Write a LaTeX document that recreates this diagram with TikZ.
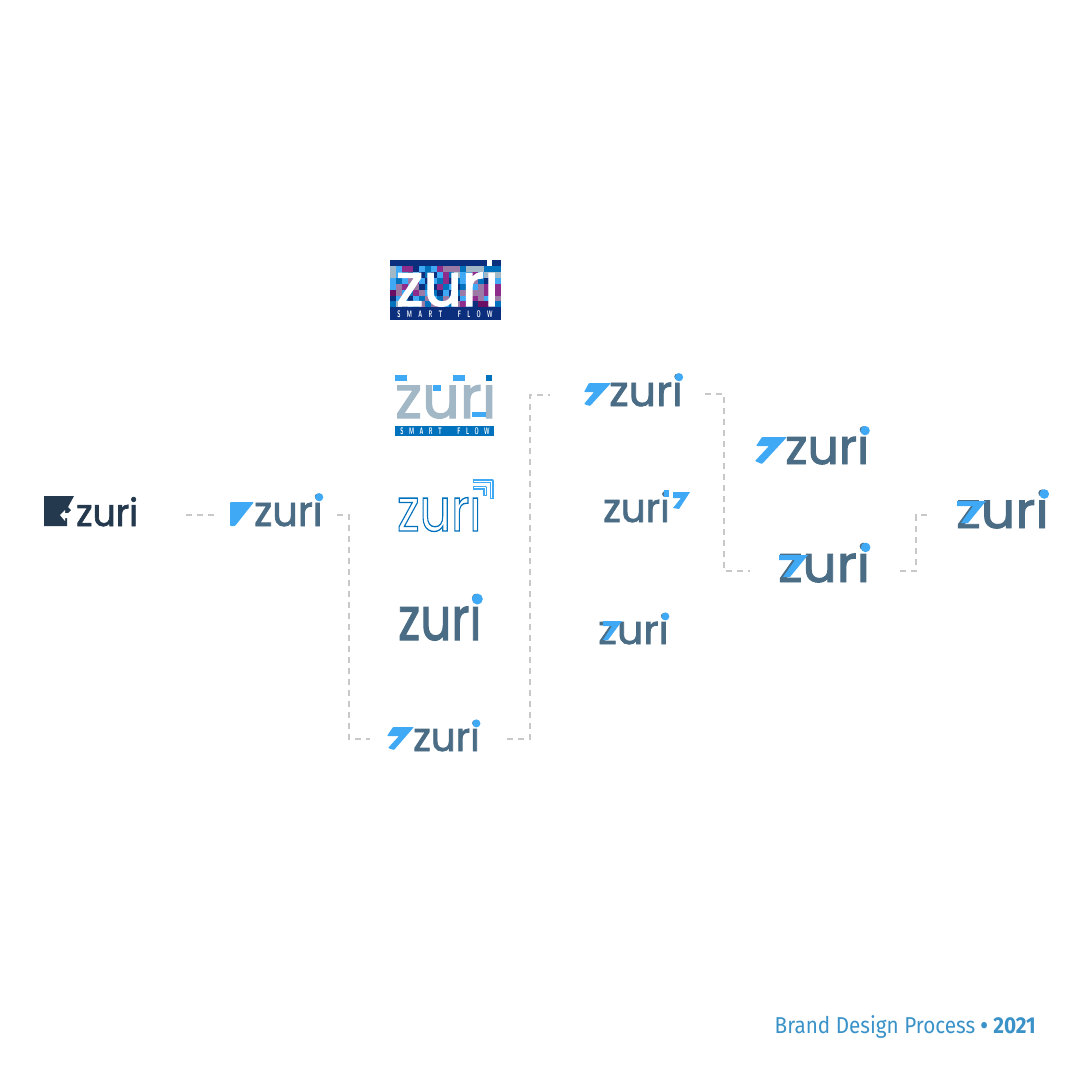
\documentclass[tikz,border=0pt]{standalone}
\usepackage{fontspec}
\usetikzlibrary{positioning, arrows.meta, calc}
\newfontfamily\zurifont[FakeBold=1.8]{Poppins}
\newfontfamily\zurilight{Poppins}
\newfontfamily\capfont[FakeStretch=0.9]{Fira Sans}
\definecolor{zurinavy}{HTML}{24394D}
\definecolor{zuristeel}{HTML}{4A6D85}
\definecolor{zuriblue}{HTML}{3FA9F5}
\definecolor{zurideep}{HTML}{0071BC}
\definecolor{zurigrey}{HTML}{A3B8C6}
\definecolor{pixnavy}{HTML}{0B2F7C}
\definecolor{pixplum}{HTML}{8E2C8C}
\definecolor{pixmauve}{HTML}{9C7AA6}
\definecolor{pixwine}{HTML}{6A0F63}
\definecolor{capblue}{HTML}{3A92C8}
\definecolor{dashgrey}{HTML}{C8C8C8}
\newcommand{\smartflow}[1]{S\hspace{#1}M\hspace{#1}A\hspace{#1}R\hspace{#1}T\hspace{28pt}F\hspace{#1}L\hspace{#1}O\hspace{#1}W}
\tikzset{
  wordmark/.style={inner sep=0, anchor=base west, text=zuristeel, font=\zurifont\fontsize{#1}{#1}\selectfont},
  smartbar/.style={inner sep=0, text=white, xscale=0.55, font=\sffamily\bfseries\fontsize{9.5}{9.5}\selectfont},
  linkdash/.style={draw=dashgrey, line width=1.1pt, dash pattern=on 6pt off 5pt},
  dotmark/.style={circle, fill=zuriblue, inner sep=0, minimum size=#1}
}
\begin{document}
\begin{tikzpicture}[x=1pt, y=-1pt]
\useasboundingbox (0,0) rectangle (1081,1080);
\fill[white] (0,0) rectangle (1081,1080);

\node[wordmark=38, text=zurinavy, xscale=0.95] (logoStart) at (76,526) {zuri};
\fill[zurinavy] (44,496) -- (74,496) -- (68,507) -- (71,510) -- (67,514) -- (67,526) -- (44,526) -- cycle;
\fill[white] (60,515) -- (65,510) -- (65,513) -- (71,513) -- (71,518) -- (65,518) -- (65,521) -- cycle;

\node[wordmark=42, xscale=0.95] (logoBlock) at (254,526) {zuri};
\fill[zuriblue, rounded corners=1pt] (230,502) -- (254,502) -- (235,526) -- (230,526) -- cycle;

\node[wordmark=40, xscale=0.97] (logoSeven) at (413,751) {zuri};
\fill[zuriblue, rounded corners=0.8pt] (393,727) -- (414,727) -- (394,750) -- (388,748) -- (399,736) -- (387,736) -- cycle;

\fill[pixnavy] (390,260) rectangle (501,320);
\foreach \row/\rowcols in {0/{zurigrey,zuriblue,pixplum,pixplum,pixnavy,zuriblue,zurideep,zuriblue,pixplum,pixmauve,pixmauve,pixmauve,zurideep,zurigrey,zurigrey,zurigrey,zurideep,zurideep,zurideep},
  1/{zurigrey,zuriblue,zurideep,pixnavy,zuriblue,pixnavy,zurideep,pixnavy,zuriblue,pixplum,zurideep,zurigrey,zuriblue,zurideep,pixplum,zuriblue,zurigrey,zurigrey,zurigrey},
  2/{zuriblue,zurideep,zuriblue,pixmauve,pixplum,zuriblue,pixnavy,zuriblue,zurideep,pixplum,pixnavy,zurideep,zuriblue,pixnavy,pixmauve,zurideep,pixnavy,zurideep,zuriblue},
  3/{zuriblue,pixmauve,pixplum,zuriblue,pixmauve,pixnavy,zurideep,pixnavy,pixplum,zurideep,zuriblue,pixnavy,zurideep,pixmauve,zuriblue,pixmauve,pixplum,pixmauve,pixplum},
  4/{pixwine,pixmauve,zuriblue,zurideep,pixplum,pixmauve,zuriblue,zurideep,pixnavy,zuriblue,pixnavy,zurideep,pixmauve,pixplum,pixmauve,pixmauve,pixplum,zuriblue,pixplum},
  5/{pixnavy,zuriblue,zurideep,pixnavy,zuriblue,zurideep,pixmauve,zuriblue,zurideep,pixmauve,zurideep,pixnavy,zuriblue,zurideep,pixplum,pixmauve,zuriblue,zurideep,pixmauve},
  6/{zurideep,zurigrey,pixnavy,zuriblue,zurideep,pixmauve,zurideep,pixmauve,pixplum,zuriblue,zurideep,pixmauve,pixplum,zurideep,pixnavy,pixwine,pixwine,pixnavy,zurideep}}
  \foreach \cellcol [count=\col from 0] in \rowcols
    \fill[\cellcol] ({390+\col*5.85},{266+\row*5.9}) rectangle ++(5.85,5.9);
\node[wordmark=60, text=white] (logoPixel) at (396,306) {zuri};
\fill[pixnavy] (485,260) rectangle (501,266);
\fill[zurideep] (488,266) rectangle (501,271);
\fill[white] (487,260) rectangle (491.5,266);
\node[smartbar] (pixelTag) at (445,314) {\smartflow{11.5pt}};

\node[wordmark=59, text=zurigrey] (logoFade) at (395,418) {zuri};
\fill[white] (481,368) rectangle (498,384);
\foreach \bx/\by/\bw/\bh in {395/375/12/6, 433/385/8/6, 453/375/12/6, 472/412/14/5}
  \fill[zuriblue] (\bx,\by) rectangle ++(\bw,\bh);
\fill[zurideep] (486,375) rectangle (492,381);
\fill[zurideep] (395,426) rectangle (494,436);
\node[smartbar] (fadeTag) at (445,431) {\smartflow{10pt}};

\node[wordmark=60, text=zurideep, font=\zurilight\fontsize{60}{60}\selectfont, xscale=0.82] (logoTube) at (397,531) {\special{pdf:code 1 Tr 1.3 w 0 0.443 0.737 RG}zuri\special{pdf:code 0 Tr}};
\fill[white] (468,478) rectangle (484,495);
\foreach \corner in {0,6.5}
  \draw[zuriblue, line width=4pt, line join=round] (473,{481+\corner}) -- ({491.7-\corner},{481+\corner}) -- ({491.7-\corner},{499-\corner*0.4});
\foreach \corner in {0,6.5}
  \draw[white, line width=1pt, line join=round] (474,{481+\corner}) -- ({491.7-\corner},{481+\corner}) -- ({491.7-\corner},{498-\corner*0.4});

\node[wordmark=60, xscale=0.81] (logoRound) at (398,640) {zuri};

\node[wordmark=42, xscale=1.02] (logoTop) at (609,406) {zuri};
\fill[zuriblue, rounded corners=0.8pt] (589,383) -- (611,383) -- (590,406) -- (584,404) -- (594,392) -- (584,392) -- cycle;

\node[wordmark=40, xscale=0.97] (logoTail) at (603,522) {zuri};
\fill[zuriblue] (673,492) -- (690,492) -- (679,509) -- (673,508) -- (681,498) -- (673,498) -- cycle;
\fill[zuriblue] (663.5,490) rectangle (669,497);

\node[wordmark=40, xscale=1.03] (logoDouble) at (598,644) {zuri};
\fill[zuriblue] (603,621) -- (622,621) -- (608,640) -- (603,640) -- (612,626) -- (603,626) -- cycle;

\node[wordmark=49] (logoUpper) at (785,464) {zuri};
\fill[zuriblue, rounded corners=0.8pt] (762,437) -- (787,437) -- (762,464) -- (755,461) -- (769,446) -- (756,446) -- cycle;

\node[wordmark=51, xscale=1.05] (logoLower) at (778,582) {zuri};
\fill[zuriblue] (779,555) -- (808,555) -- (790,577) -- (783,577) -- (795,560) -- (779,560) -- cycle;

\node[wordmark=50, xscale=1.08] (logoFinal) at (956,528) {zuri};
\fill[zuriblue] (957,501) -- (986,501) -- (968,523) -- (961,523) -- (973,506) -- (957,506) -- cycle;

\foreach \logoname/\dotsize/\dotup/\dotin in {logoBlock/8.2/28.8/3.6, logoSeven/8/27.6/3.5, logoRound/11/41/4.3, logoTop/8.2/28.8/3.8, logoDouble/8/27.6/3.7, logoUpper/9.4/33.4/4.3, logoLower/9.6/34.6/4.6, logoFinal/9.6/34/4.7}
  \node[dotmark=\dotsize pt] (dot\logoname) at ([xshift=-\dotin pt, yshift=\dotup pt]\logoname.base east) {};

\coordinate (elbowBlock) at (349,600);
\coordinate (elbowSeven) at (530,600);
\coordinate (elbowTop) at (724,500);
\coordinate (elbowLower) at (916,540);

\draw[linkdash, shorten <=48pt, shorten >=40pt] ([yshift=11pt]logoStart.base east) -- ([yshift=11pt]logoBlock.base west);
\draw[linkdash, shorten <=14pt, shorten >=43pt] ([yshift=11pt]logoBlock.base east) -| (elbowBlock) |- ([yshift=12pt]logoSeven.base west);
\draw[linkdash, shorten <=27pt, shorten >=59pt] ([yshift=12pt]logoSeven.base east) -| (elbowSeven) |- ([yshift=11pt]logoTop.base west);
\draw[linkdash, shorten <=22pt, shorten >=28pt] ([yshift=12pt]logoTop.base east) -| (elbowTop) |- ([yshift=11pt]logoLower.base west);
\draw[linkdash, shorten <=30pt, shorten >=24pt] ([yshift=11pt]logoLower.base east) -| (elbowLower) |- ([yshift=13pt]logoFinal.base west);

\node[text=capblue, font=\capfont\fontsize{23}{23}\selectfont, inner sep=0, anchor=base east] (caption) at (1036,1033) {Brand Design Process \textbf{\textbullet}\ \textbf{2021}};
\end{tikzpicture}
\end{document}
